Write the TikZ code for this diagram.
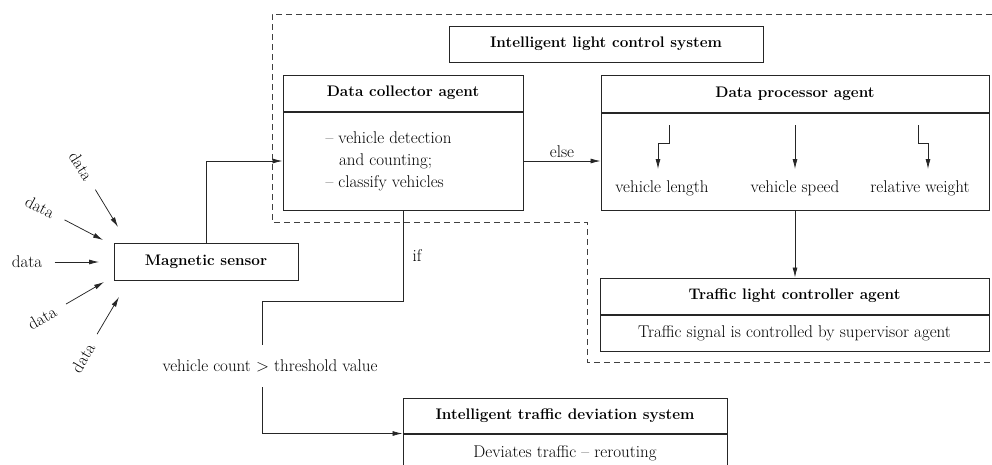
\documentclass[tikz,border=0pt]{standalone}
\usepackage{fontspec}
\usetikzlibrary{arrows.meta}
\begin{document}
\begin{tikzpicture}[
    x = 1pt, y = -1pt,
    every node/.style = {font = \fontsize{17}{22}\selectfont, text = black},
    head/.style = {font = \fontsize{15.3}{22}\selectfont\bfseries},
    box/.style 2 args = {draw = black!85, line width = 1pt,
      minimum width = #1, minimum height = #2, inner sep = 0pt},
    arr/.style = {-{Latex[length = 10pt, width = 5pt]}, draw = black!85, line width = 0.75pt},
    line/.style = {draw = black!85, line width = 0.75pt},
    frame/.style = {draw = black!75, line width = 0.75pt, dash pattern = on 6pt off 4pt}
  ]

  \useasboundingbox (0, 0) rectangle (992, 464);
  \clip (0, 0) rectangle (992, 464);

  \draw[frame] (992, 14) -- (272, 14) -- (272, 222) -- (587, 222)
    -- (587, 362) -- (992, 362);

  \node[box = {314pt}{36pt}, head] (lightsys) at (606, 44) {Intelligent light control system};

  \node[box = {240pt}{36pt}, head] (collhead) at (403, 93) {Data collector agent};
  \node[box = {240pt}{98pt}, anchor = north] (collbody) at (collhead.south) {};
  \node[align = left, anchor = west] (colltext) at (322, 161)
    {-- vehicle detection\\\hspace*{0.8em}and counting;\\-- classify vehicles};

  \node[box = {388pt}{37pt}, head] (prochead) at (795, 93.5) {Data processor agent};
  \node[box = {388pt}{97pt}, anchor = north] (procbody) at (prochead.south) {};

  \foreach \name/\px/\txt in {len/662/vehicle length, spd/795/vehicle speed, wgt/920/relative weight} {
    \node[anchor = base, inner ysep = 11pt] (\name) at (\px, 192) {\txt};
  }
  \coordinate (lenin) at (669, 125);
  \coordinate (wgtin) at (918, 125);
  \draw[arr] (lenin) -- ++(0, 18) -| ([xshift = -4pt]len.north);
  \draw[arr] (spd.north |- lenin) -- (spd.north);
  \draw[arr] (wgtin) -- ++(0, 18) -| ([xshift = 8pt]wgt.north);

  \node[box = {389pt}{36pt}, head] (trafhead) at (794.5, 296) {Traffic light controller agent};
  \node[box = {389pt}{36pt}, anchor = north] (trafbody) at (trafhead.south)
    {Traffic signal is controlled by supervisor agent};

  \node[box = {184pt}{37pt}, head] (sensor) at (206, 261.5) {Magnetic sensor};

  \node[box = {324pt}{35pt}, head] (devhead) at (565, 415.5) {Intelligent traffic deviation system};
  \node[box = {324pt}{38pt}, anchor = north] (devbody) at (devhead.south) {Deviates traffic -- rerouting};

  \foreach \lx/\ly/\ang/\tx/\ty [count = \i] in
    {81/166/-58/118/227, 40/207/-28/103/240, 27/262/0/99/262, 42/318/30/104/282, 83/358/59/119/297} {
    \node[rotate = \ang] (data\i) at (\lx, \ly) {data};
    \coordinate (tip\i) at (\tx, \ty);
    \draw[arr, shorten <= 9pt] (data\i) -- (tip\i);
  }

  \draw[arr] (sensor.north) |- (collbody.west);
  \draw[arr] (collbody.east) -- node[above] {else} (collbody.east -| procbody.west);
  \draw[arr] (procbody.south) -- (procbody.south |- trafhead.north);

  \coordinate (ifbend) at (262, 301);
  \node[inner ysep = 15pt] (cond) at (270, 366) {vehicle count > threshold value};
  \draw[line] (collbody.south) -- node[right = 6pt] {if} (collbody.south |- ifbend)
    -| (cond.north -| ifbend);
  \draw[arr] (cond.south -| ifbend) |- (devhead.south west);

\end{tikzpicture}
\end{document}
